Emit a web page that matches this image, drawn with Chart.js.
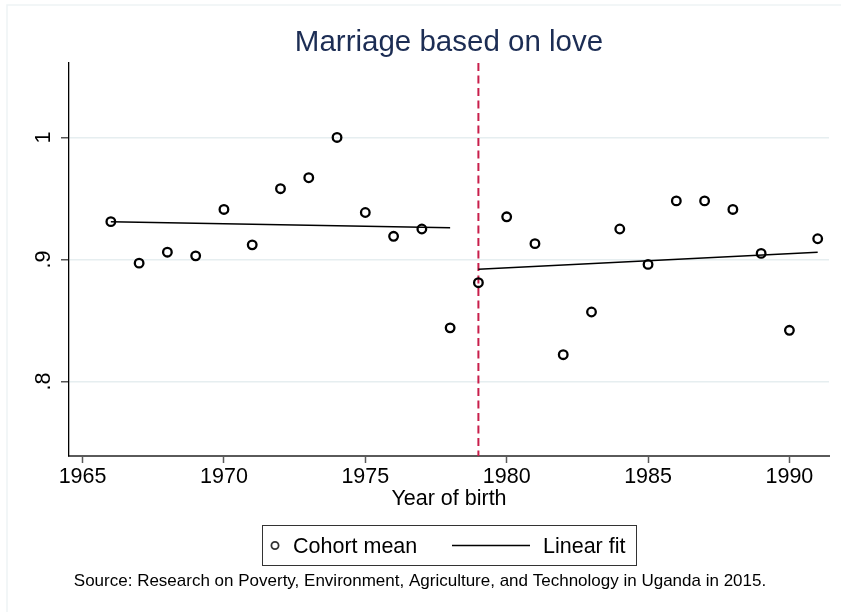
<!DOCTYPE html>
<html>
<head>
<meta charset="utf-8">
<script src="https://cdn.jsdelivr.net/npm/chart.js@4.4.1/dist/chart.umd.min.js"></script>
<style>
  body { margin: 0; background: #fff; }
  canvas { display: block; }
</style>
</head>
<body>
<canvas id="chart" width="841" height="612"></canvas>
<script>
// data
const years = [1966, 1967, 1968, 1969, 1970, 1971, 1972, 1973, 1974, 1975, 1976, 1977, 1978,
  1979, 1980, 1981, 1982, 1983, 1984, 1985, 1986, 1987, 1988, 1989, 1990, 1991];
const cohortMean = [0.931, 0.897, 0.906, 0.903, 0.941, 0.912, 0.958, 0.967, 1.0, 0.9385, 0.919, 0.925, 0.844,
  0.881, 0.935, 0.913, 0.822, 0.857, 0.925, 0.896, 0.948, 0.948, 0.941, 0.905, 0.842, 0.917];
const fitBefore = [[1966, 0.931], [1978, 0.926]];
const fitAfter = [[1979, 0.892], [1991, 0.906]];
const cutoffYear = 1979;
const xTicks = [1965, 1970, 1975, 1980, 1985, 1990];
const yTicks = [0.8, 0.9, 1];
const yTickLabels = [".8", ".9", "1"];

const xMin = 1964.52, xMax = 1991.4;
const yMin = 0.739, yMax = 1.061;

const FONT = "'Liberation Sans', Arial, sans-serif";

const points = years.map((y, i) => ({ x: y, y: cohortMean[i] }));
const toXY = (arr) => arr.map((p) => ({ x: p[0], y: p[1] }));

// title, axis title, legend box, source note + faint frame
const decorations = {
  id: "decorations",
  beforeDraw(chart) {
    const ctx = chart.ctx;
    ctx.save();
    ctx.fillStyle = "#fff";
    ctx.fillRect(0, 0, chart.width, chart.height);
    ctx.strokeStyle = "#eef3f5";
    ctx.lineWidth = 1.5;
    ctx.beginPath();
    ctx.moveTo(7, chart.height);
    ctx.lineTo(7, 5);
    ctx.lineTo(chart.width, 5);
    ctx.stroke();
    ctx.restore();
  },
  afterDraw(chart) {
    const ctx = chart.ctx;
    const area = chart.chartArea;
    const cx = (area.left + area.right) / 2;
    ctx.save();
    ctx.textAlign = "center";
    ctx.textBaseline = "alphabetic";

    ctx.fillStyle = "#1c2d54";
    ctx.font = "29.5px " + FONT;
    ctx.fillText("Marriage based on love", cx, 51);

    ctx.fillStyle = "#000";
    ctx.font = "21.5px " + FONT;
    ctx.fillText("Year of birth", cx, 505);

    // legend
    ctx.strokeStyle = "#333";
    ctx.lineWidth = 1;
    ctx.strokeRect(262.5, 525.5, 374, 40);
    ctx.lineWidth = 1.8;
    ctx.beginPath();
    ctx.arc(275, 545.5, 3.6, 0, Math.PI * 2);
    ctx.stroke();
    ctx.textAlign = "left";
    ctx.fillText("Cohort mean", 293, 553);
    ctx.lineWidth = 1.7;
    ctx.strokeStyle = "#000";
    ctx.beginPath();
    ctx.moveTo(452, 545.5);
    ctx.lineTo(530, 545.5);
    ctx.stroke();
    ctx.fillText("Linear fit", 543, 553);

    ctx.textAlign = "center";
    ctx.font = "17px " + FONT;
    ctx.fillText("Source: Research on Poverty, Environment, Agriculture, and Technology in Uganda in 2015.", 420, 586);
    ctx.restore();
  },
};

const ctx = document.getElementById("chart").getContext("2d");
new Chart(ctx, {
  type: "scatter",
  data: {
    datasets: [
      {
        label: "Cohort mean",
        data: points,
        showLine: false,
        pointStyle: "circle",
        pointRadius: 4.3,
        pointBorderWidth: 2.3,
        pointBorderColor: "#000",
        pointBackgroundColor: "rgba(0,0,0,0)",
        order: 1,
      },
      {
        label: "Linear fit",
        data: toXY(fitBefore),
        showLine: true,
        borderColor: "#000",
        borderWidth: 1.5,
        pointRadius: 0,
        order: 2,
      },
      {
        label: "Linear fit after",
        data: toXY(fitAfter),
        showLine: true,
        borderColor: "#000",
        borderWidth: 1.5,
        pointRadius: 0,
        order: 2,
      },
      {
        label: "cutoff",
        data: [{ x: cutoffYear, y: yMax }, { x: cutoffYear, y: yMin }],
        showLine: true,
        borderColor: "#c81e4b",
        borderWidth: 2,
        borderDash: [8, 4.5],
        pointRadius: 0,
        order: 3,
      },
    ],
  },
  options: {
    responsive: false,
    animation: false,
    devicePixelRatio: 1,
    layout: { padding: { top: 63, right: 12, bottom: 0, left: 0 } },
    plugins: {
      legend: { display: false },
      title: { display: false },
      tooltip: { enabled: false },
    },
    scales: {
      x: {
        type: "linear",
        min: xMin,
        max: xMax,
        afterBuildTicks: (scale) => {
          scale.ticks = xTicks.map((v) => ({ value: v }));
        },
        afterFit: (scale) => {
          scale.height = 156;
        },
        ticks: {
          color: "#000",
          font: { family: FONT, size: 21.5 },
          padding: 1,
          maxRotation: 0,
          callback: (v) => String(v),
        },
        grid: {
          drawOnChartArea: false,
          drawTicks: true,
          tickLength: 7,
          tickColor: "#5a5a5a",
          tickWidth: 1.5,
        },
        border: { display: true, color: "#5a5a5a", width: 2 },
      },
      y: {
        type: "linear",
        min: yMin,
        max: yMax,
        afterBuildTicks: (scale) => {
          scale.ticks = yTicks.map((v) => ({ value: v }));
        },
        afterFit: (scale) => {
          scale.width = 69;
        },
        ticks: {
          color: "#000",
          font: { family: FONT, size: 21.5 },
          padding: 8,
          minRotation: 90,
          maxRotation: 90,
          crossAlign: "center",
          callback: (v) => {
            const i = yTicks.indexOf(v);
            return i >= 0 ? yTickLabels[i] : "";
          },
        },
        grid: {
          color: "#e6eef0",
          lineWidth: 1.5,
          drawTicks: true,
          tickLength: 8,
          tickColor: "#555",
          tickWidth: 1.5,
        },
        border: { display: true, color: "#000", width: 1.3 },
      },
    },
  },
  plugins: [decorations],
});
</script>
</body>
</html>
